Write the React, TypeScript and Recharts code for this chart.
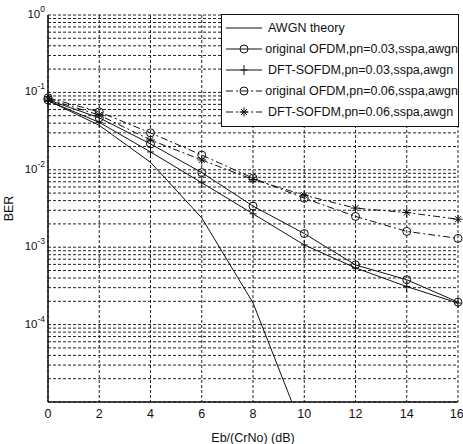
import React from "react";
import { LineChart, Line, XAxis, YAxis, CartesianGrid, Legend } from "recharts";

const snr = [0, 2, 4, 6, 8, 10, 12, 14, 16];
const awgnTheory = [0.0786, 0.0375, 0.0125, 0.00239, 0.000191, 0.0000039, null, null, null];
const origPn003 = [0.08, 0.047, 0.0216, 0.0092, 0.0034, 0.0015, 0.00059, 0.00038, 0.000195];
const dftPn003 = [0.078, 0.041, 0.017, 0.0068, 0.0027, 0.00107, 0.00054, 0.00031, 0.00019];
const origPn006 = [0.085, 0.056, 0.03, 0.0155, 0.0078, 0.0043, 0.0025, 0.0016, 0.0013];
const dftPn006 = [0.082, 0.051, 0.0243, 0.0134, 0.0075, 0.0047, 0.0032, 0.0028, 0.0023];

const xTicks = [0, 2, 4, 6, 8, 10, 12, 14, 16];
const decades = [-5, -4, -3, -2, -1];
const mantissas = [1, 2, 3, 4, 5, 6, 7, 8, 9];
const yTicks = [...decades.flatMap((e) => mantissas.map((m) => Number((m * Math.pow(10, e)).toPrecision(3)))), 1];
const labeledExps = [0, -1, -2, -3, -4];

const seriesNames = [
  "AWGN theory",
  "original OFDM,pn=0.03,sspa,awgn",
  "DFT-SOFDM,pn=0.03,sspa,awgn",
  "original OFDM,pn=0.06,sspa,awgn",
  "DFT-SOFDM,pn=0.06,sspa,awgn",
];

const data = snr.map((x, i) => ({
  x,
  awgn: awgnTheory[i],
  o3: origPn003[i],
  d3: dftPn003[i],
  o6: origPn006[i],
  d6: dftPn006[i],
}));

const INK = "#111";
const FONT = "'Liberation Sans Narrow', 'Arial Narrow', 'Liberation Sans', Arial, sans-serif";
const DASHDOT = "7 3 2 3";

type MarkerKind = "none" | "circle" | "plus" | "star";

function Marker({ kind, cx, cy }: { kind: MarkerKind; cx: number; cy: number }) {
  if (kind === "circle") return <circle cx={cx} cy={cy} r={4} fill="none" stroke={INK} strokeWidth={1} />;
  if (kind === "plus")
    return (
      <g stroke={INK} strokeWidth={1}>
        <line x1={cx} y1={cy - 5} x2={cx} y2={cy + 5} />
        <line x1={cx - 3.5} y1={cy} x2={cx + 3.5} y2={cy} />
      </g>
    );
  if (kind === "star")
    return (
      <g stroke={INK} strokeWidth={1}>
        <line x1={cx} y1={cy - 4.5} x2={cx} y2={cy + 4.5} />
        <line x1={cx - 4.5} y1={cy} x2={cx + 4.5} y2={cy} />
        <line x1={cx - 3} y1={cy - 3} x2={cx + 3} y2={cy + 3} />
        <line x1={cx - 3} y1={cy + 3} x2={cx + 3} y2={cy - 3} />
      </g>
    );
  return null;
}

const makeDot = (kind: MarkerKind) => (p: any) => {
  const key = `${kind}-${p.index}`;
  if (p.cx == null || p.cy == null || p.value == null) return <g key={key} />;
  return (
    <g key={key}>
      <Marker kind={kind} cx={p.cx} cy={p.cy} />
    </g>
  );
};

const legendItems: { name: string; kind: MarkerKind; dash?: string }[] = [
  { name: seriesNames[0], kind: "none" },
  { name: seriesNames[1], kind: "circle" },
  { name: seriesNames[2], kind: "plus" },
  { name: seriesNames[3], kind: "circle", dash: DASHDOT },
  { name: seriesNames[4], kind: "star", dash: DASHDOT },
];

function LegendBox() {
  return (
    <div
      style={{
        width: 236,
        height: 109,
        border: "1px solid #111",
        background: "#fff",
        boxSizing: "content-box",
        paddingTop: 2,
        fontFamily: FONT,
        fontSize: 12.5,
        color: INK,
      }}
    >
      {legendItems.map((it) => (
        <div key={it.name} style={{ height: 21, display: "flex", alignItems: "center" }}>
          <svg width={44} height={14} style={{ display: "block" }}>
            <line x1={4} y1={7} x2={40} y2={7} stroke={INK} strokeWidth={1} strokeDasharray={it.dash} />
            <Marker kind={it.kind} cx={22} cy={7} />
          </svg>
          <span style={{ marginLeft: 2, whiteSpace: "nowrap" }}>{it.name}</span>
        </div>
      ))}
    </div>
  );
}

function YTick(props: any) {
  const { x, y, payload } = props;
  const v = payload.value as number;
  const e = Math.round(Math.log10(v));
  const isDecade = Math.abs(Math.log10(v) - e) < 1e-6 && labeledExps.includes(e);
  if (!isDecade) return <g />;
  return (
    <text x={x + 5} y={y + 3} textAnchor="end" fontFamily={FONT} fontSize={11.5} fill={INK}>
      10
      <tspan dy={-6} fontSize={8.5}>
        {String(e)}
      </tspan>
    </text>
  );
}

export default function App() {
  return (
    <div style={{ position: "absolute", left: 0, top: 0, width: 463, height: 444, background: "#fff" }}>
      <LineChart width={463} height={444} data={data} margin={{ top: 15, right: 5, left: 0, bottom: 0 }}>
        <CartesianGrid stroke="#222" strokeDasharray="3 2" strokeWidth={1} />
        <XAxis
          dataKey="x"
          type="number"
          domain={[0, 16]}
          ticks={xTicks}
          height={42}
          tickLine={false}
          tickSize={5}
          axisLine={{ stroke: INK, strokeWidth: 1.5 }}
          tick={{ fill: INK, fontSize: 12.5, fontFamily: FONT }}
          label={{ value: "Eb/(CrNo) (dB)", position: "insideBottom", offset: 2, fill: INK, fontSize: 12.5, fontFamily: FONT }}
        />
        <YAxis
          type="number"
          scale="log"
          domain={[1e-5, 1]}
          allowDataOverflow
          ticks={yTicks}
          interval={0}
          width={48}
          tickLine={false}
          axisLine={{ stroke: INK, strokeWidth: 1.5 }}
          tick={<YTick />}
          label={{ value: "BER", angle: -90, position: "insideLeft", offset: 9, fill: INK, fontSize: 12.5, fontFamily: FONT, style: { textAnchor: "middle" } }}
        />
        <Legend
          layout="vertical"
          align="center"
          verticalAlign="middle"
          wrapperStyle={{ position: "absolute", left: 221, top: 14, width: 238 }}
          content={() => <LegendBox />}
        />
        <Line dataKey="awgn" name={seriesNames[0]} stroke={INK} strokeWidth={1} dot={false} isAnimationActive={false} />
        <Line dataKey="o3" name={seriesNames[1]} stroke={INK} strokeWidth={1} dot={makeDot("circle")} isAnimationActive={false} />
        <Line dataKey="d3" name={seriesNames[2]} stroke={INK} strokeWidth={1} dot={makeDot("plus")} isAnimationActive={false} />
        <Line dataKey="o6" name={seriesNames[3]} stroke={INK} strokeWidth={1} strokeDasharray={DASHDOT} dot={makeDot("circle")} isAnimationActive={false} />
        <Line dataKey="d6" name={seriesNames[4]} stroke={INK} strokeWidth={1} strokeDasharray={DASHDOT} dot={makeDot("star")} isAnimationActive={false} />
      </LineChart>
    </div>
  );
}
